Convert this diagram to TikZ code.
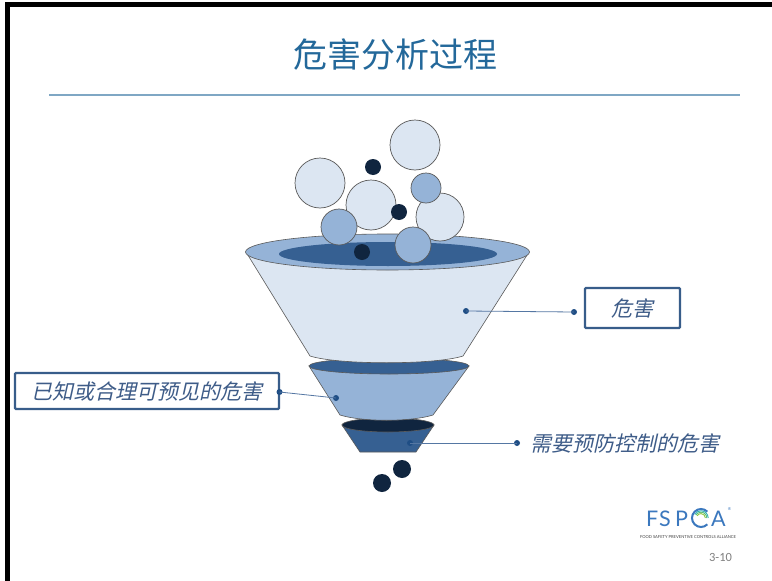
\documentclass[tikz,border=0pt]{standalone}
\usepackage{fontspec}
\newfontfamily\cjk{Noto Sans CJK SC}
\newfontfamily\cjkit[FakeSlant=0.22]{Noto Sans CJK SC}
\newfontfamily\logofont{Lato}
\newfontfamily\pagefont{Carlito}
\definecolor{titleblue}{HTML}{23689A}
\definecolor{ruleblue}{HTML}{7FA7C4}
\definecolor{paleblue}{HTML}{DCE6F2}
\definecolor{midblue}{HTML}{95B3D7}
\definecolor{deepblue}{HTML}{366092}
\definecolor{navy}{HTML}{10253F}
\definecolor{edgegray}{HTML}{5A5A5A}
\definecolor{labelblue}{HTML}{3E5C88}
\definecolor{boxblue}{HTML}{385D8A}
\definecolor{leadblue}{HTML}{5577A3}
\definecolor{dotblue}{HTML}{1F4E85}
\definecolor{logoblue}{HTML}{3B78BE}
\definecolor{logoteal}{HTML}{2BB3B1}
\definecolor{logogreen}{HTML}{8CC63F}
\tikzset{
  piece/.style={draw=edgegray, line width=0.6pt},
  ball/.style={draw=edgegray, line width=0.7pt},
  drop/.style={fill=navy},
  leader/.style={draw=leadblue, line width=0.8pt},
  dot/.style={circle, fill=dotblue, inner sep=0pt, minimum size=6pt},
  labelbox/.style={draw=boxblue, line width=2.4pt, rounded corners=1pt, fill=white,
    font=\cjkit\fontsize{21}{24}\selectfont, text=labelblue, inner sep=0pt},
  labeltext/.style={font=\cjkit\fontsize{21}{24}\selectfont, text=labelblue, inner sep=0pt},
  logoletter/.style={font=\logofont\fontsize{21.5}{21.5}\selectfont, text=logoblue, inner sep=0pt, anchor=base west}
}
\begin{document}
\begin{tikzpicture}[x=1pt, y=-1pt]
\useasboundingbox (0,0) rectangle (772,581);
\fill[white] (0,0) rectangle (772,581);
% slide frame
\fill[black] (5,2) rectangle (772,7);
\fill[black] (5,2) rectangle (10,581);

% title and rule
\node[font=\cjk\fontsize{34}{38}\selectfont, text=titleblue, inner sep=0pt] (title) at (395,55) {危害分析过程};
\draw[ruleblue, line width=1.4pt] (49,95) -- (740,95);

% funnel, lowest tier first
\path[piece, fill=deepblue] (342,425) -- (360,452) -- (416,452) -- (434,425) -- cycle;
\path[piece, fill=navy] (388,425) ellipse [x radius=46pt, y radius=7pt];
\path[piece, fill=midblue] (309,366) -- (340,415) .. controls (362,422) and (411,422) .. (433,415) -- (469,366) -- cycle;
\path[piece, fill=deepblue] (389,366) ellipse [x radius=80pt, y radius=8pt];
\path[piece, fill=paleblue] (246,252) -- (310,356) .. controls (338,365) and (435,365) .. (463,356) -- (529,252) -- cycle;
\path[piece, fill=midblue] (387.5,252) ellipse [x radius=142pt, y radius=18pt];
\path[fill=deepblue] (388,254) ellipse [x radius=109pt, y radius=12pt];

% hazards above the funnel
\path[ball, fill=paleblue] (320,183) circle [radius=25pt];
\path[ball, fill=paleblue] (415,145) circle [radius=25pt];
\path[ball, fill=paleblue] (371,205) circle [radius=25pt];
\path[ball, fill=paleblue] (440,217) circle [radius=24pt];
\path[ball, fill=midblue] (426,188) circle [radius=15pt];
\path[ball, fill=midblue] (339,227) circle [radius=18pt];
\path[ball, fill=midblue] (413,245) circle [radius=18pt];
\path[drop] (373,167) circle [radius=8pt];
\path[drop] (399,212) circle [radius=8pt];
\path[drop] (362,252) circle [radius=8pt];

% hazards leaving the funnel
\path[drop] (402,469) circle [radius=9pt];
\path[drop] (382,483) circle [radius=9pt];

% labels
\node[labelbox, minimum width=95pt, minimum height=40pt] (hz) at (632.5,308) {危害};
\node[labelbox, minimum width=264pt, minimum height=36pt] (known) at (147,391) {已知或合理可预见的危害};
\node[labeltext, anchor=west] (ctrl) at (530,443) {需要预防控制的危害};

\node[dot] (hzin) at (466,311) {};
\node[dot] (hzout) at (574,312) {};
\node[dot] (knin) at (336,398) {};
\node[dot] (knout) at (279.5,392) {};
\node[dot] (ctin) at (410,443) {};
\node[dot] (ctout) at (517,443) {};
\draw[leader] (hzin.center) -- (hzout.center);
\draw[leader] (knin.center) -- (knout.center);
\draw[leader] (ctin.center) -- (ctout.center);

% logo
\node[logoletter] (lf) at (646,526) {F};
\node[logoletter] (ls) at (659,526) {S};
\node[logoletter] (lp) at (675,526) {P};
\draw[logoblue, line width=2pt] (701,518) ++(45:9pt) arc [start angle=45, end angle=315, radius=9pt];
\foreach \r/\c in {7.2/logoteal, 5.8/logoteal!50!logogreen, 4.4/logogreen}
  \draw[\c, line width=0.9pt] (701,518) ++(0:\r pt) arc [start angle=0, end angle=150, radius=\r pt];
\node[logoletter] (la) at (711,526) {A};
\node[font=\logofont\fontsize{4}{4}\selectfont, text=logoblue, inner sep=0pt] (reg) at (729.5,509) {®};
\node[font=\logofont\fontsize{4.1}{4.1}\selectfont, text=black!75, inner sep=0pt] (tag) at (688,537) {FOOD SAFETY PREVENTIVE CONTROLS ALLIANCE};
\node[font=\pagefont\fontsize{12.5}{12.5}\selectfont, text=black!50, inner sep=0pt] (page) at (720.5,557) {3-10};
\end{tikzpicture}
\end{document}
